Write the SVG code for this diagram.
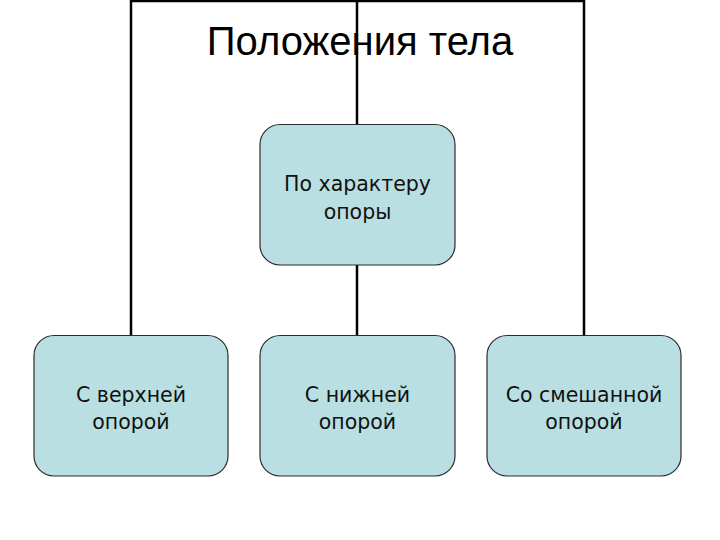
<svg xmlns="http://www.w3.org/2000/svg" width="720" height="540" viewBox="0 0 720 540">
<style>
.node rect{fill:#badfe2;stroke:#2b2b2b;stroke-width:1.2}
.node text{font-family:"DejaVu Sans",Verdana,sans-serif;font-size:20.5px;fill:#111;text-anchor:middle}
.conn{fill:none;stroke:#000;stroke-width:2.5}
.title{font-family:"Liberation Sans",Arial,sans-serif;font-size:40px;fill:#000;text-anchor:middle}
</style>
<rect width="720" height="540" fill="#fff"/>
<g id="connectors">
<polyline class="conn" points="131,336 131,1 584,1 584,336"/>
<line class="conn" x1="357" y1="0" x2="357" y2="125"/>
<line class="conn" x1="357" y1="265" x2="357" y2="336"/>
</g>
<text class="title" x="360" y="55">Положения тела</text>
<g id="root" class="node">
<rect x="260" y="124.5" width="195" height="140.5" rx="20"/>
<text x="357.5" y="191">По характеру</text>
<text x="357.5" y="219">опоры</text>
</g>
<g id="upper" class="node">
<rect x="34" y="335.5" width="194" height="140.5" rx="20"/>
<text x="131" y="402">С верхней</text>
<text x="131" y="429">опорой</text>
</g>
<g id="lower" class="node">
<rect x="260" y="335.5" width="195" height="140.5" rx="20"/>
<text x="357.5" y="402">С нижней</text>
<text x="357.5" y="429">опорой</text>
</g>
<g id="mixed" class="node">
<rect x="487" y="335.5" width="194" height="140.5" rx="20"/>
<text x="584" y="402">Со смешанной</text>
<text x="584" y="429">опорой</text>
</g>
</svg>
